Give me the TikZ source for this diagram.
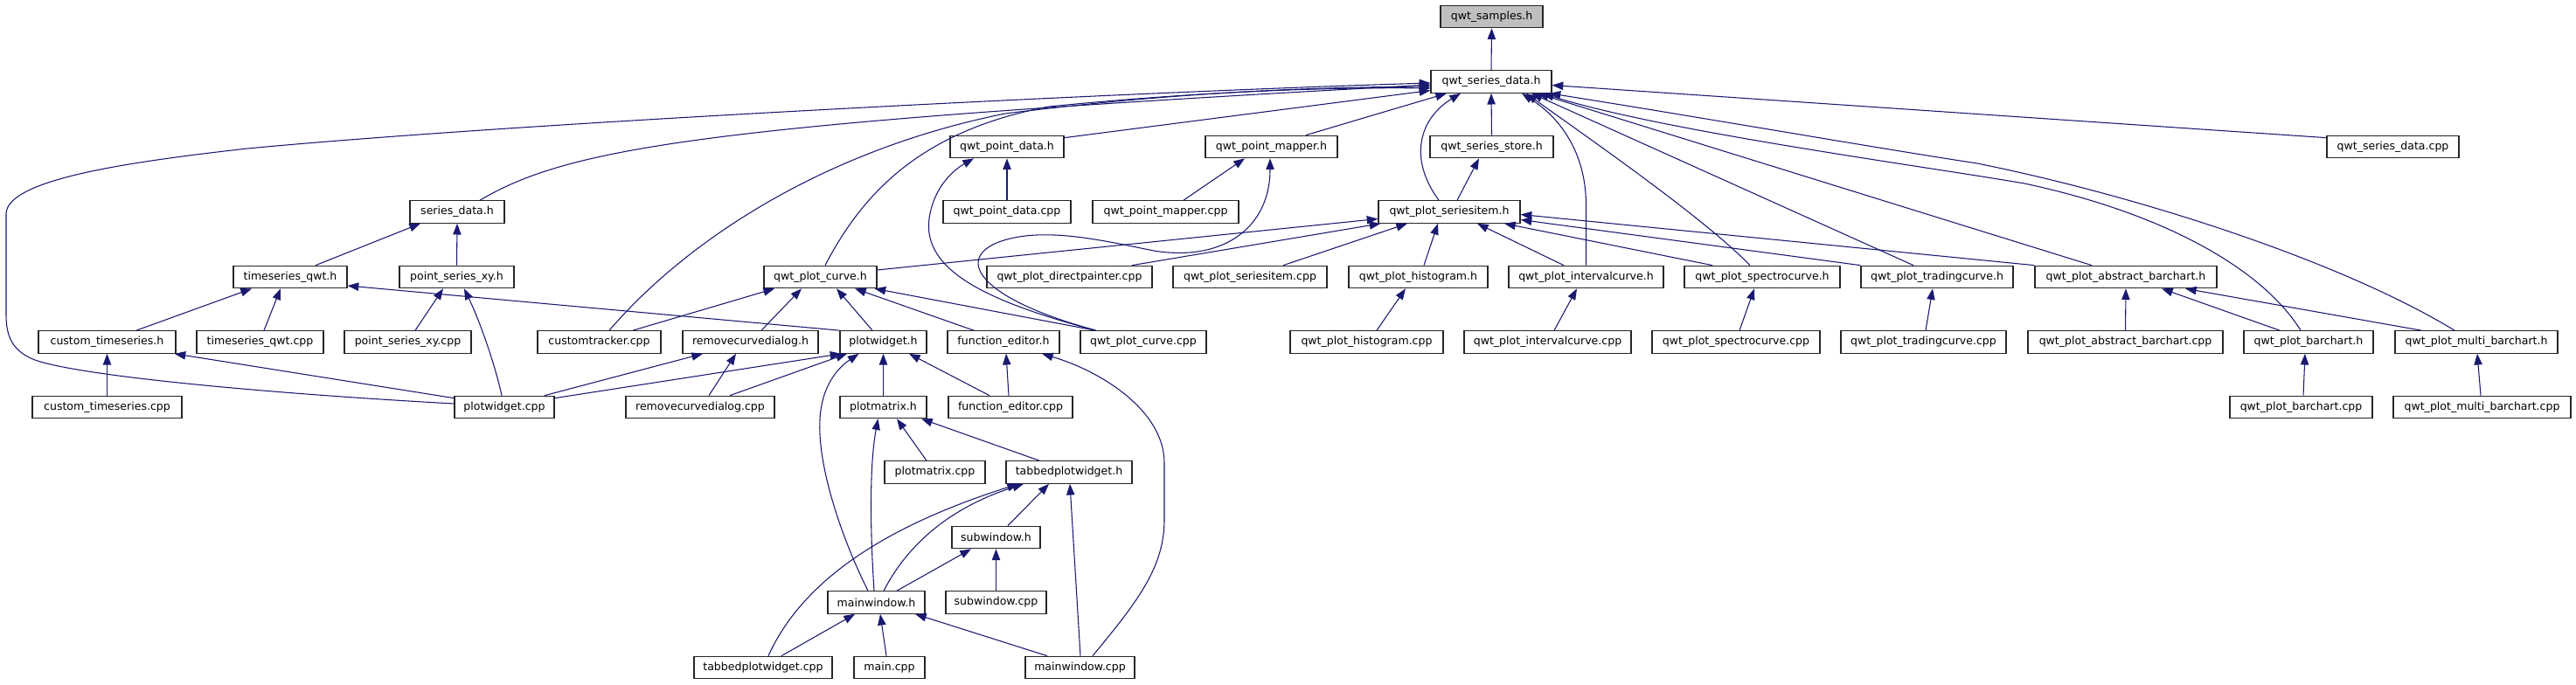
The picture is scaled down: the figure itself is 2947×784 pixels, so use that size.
\documentclass[tikz,border=0pt]{standalone}
\usepackage{fontspec}
\setmainfont{DejaVu Sans}
\usetikzlibrary{arrows.meta,calc}
\definecolor{edgeblue}{HTML}{191970}
\definecolor{mainfill}{HTML}{BFBFBF}
\begin{document}
\begin{tikzpicture}[x=0.75pt,y=-0.75pt,
  box/.style={draw=black!85, line width=0.9pt, fill=white, minimum height=19.1pt, inner sep=0pt, font=\fontsize{9.4pt}{11pt}\selectfont},
  bw/.style={minimum width=#1*0.75pt},
  dep/.style={draw=edgeblue, line width=0.8pt, -{Triangle[length=9.5pt,width=7pt]}}]
\useasboundingbox (0,0) rectangle (2947,784);
% rank 0
\node[box,bw=117,fill=mainfill] (samples) at (1706.5,19) {qwt\_samples.h};
% rank 1
\node[box,bw=138] (sd) at (1706,93.5) {qwt\_series\_data.h};
% rank 2
\node[box,bw=130] (pd) at (1152,168) {qwt\_point\_data.h};
\node[box,bw=151] (pm) at (1454.5,168) {qwt\_point\_mapper.h};
\node[box,bw=141] (ss) at (1706.5,168) {qwt\_series\_store.h};
\node[box,bw=151] (sdc) at (2737.5,168) {qwt\_series\_data.cpp};
% rank 3
\node[box,bw=108] (sdh) at (523,242.5) {series\_data.h};
\node[box,bw=146] (pdc) at (1152,242.5) {qwt\_point\_data.cpp};
\node[box,bw=167] (pmc) at (1333.5,242.5) {qwt\_point\_mapper.cpp};
\node[box,bw=162] (si) at (1658,242.5) {qwt\_plot\_seriesitem.h};
% rank 4
\node[box,bw=130] (tq) at (332,317) {timeseries\_qwt.h};
\node[box,bw=131] (psx) at (522.5,317) {point\_series\_xy.h};
\node[box,bw=129] (pc) at (938.5,317) {qwt\_plot\_curve.h};
\node[box,bw=189] (dp) at (1223.5,317) {qwt\_plot\_directpainter.cpp};
\node[box,bw=176] (sic) at (1430,317) {qwt\_plot\_seriesitem.cpp};
\node[box,bw=159] (hi) at (1622.5,317) {qwt\_plot\_histogram.h};
\node[box,bw=177] (ic) at (1814.5,317) {qwt\_plot\_intervalcurve.h};
\node[box,bw=178] (sc) at (2016,317) {qwt\_plot\_spectrocurve.h};
\node[box,bw=174] (tc) at (2216,317) {qwt\_plot\_tradingcurve.h};
\node[box,bw=208] (ab) at (2432,317) {qwt\_plot\_abstract\_barchart.h};
% rank 5
\node[box,bw=157] (cth) at (122.5,391.5) {custom\_timeseries.h};
\node[box,bw=145] (tqc) at (297.5,391.5) {timeseries\_qwt.cpp};
\node[box,bw=145] (psxc) at (466.5,391.5) {point\_series\_xy.cpp};
\node[box,bw=141] (ct) at (685.5,391.5) {customtracker.cpp};
\node[box,bw=155] (rdh) at (858.5,391.5) {removecurvedialog.h};
\node[box,bw=99] (pw) at (1010.5,391.5) {plotwidget.h};
\node[box,bw=128] (feh) at (1148,391.5) {function\_editor.h};
\node[box,bw=144] (pcc) at (1308,391.5) {qwt\_plot\_curve.cpp};
\node[box,bw=175] (hic) at (1563.5,391.5) {qwt\_plot\_histogram.cpp};
\node[box,bw=191] (icc) at (1770.5,391.5) {qwt\_plot\_intervalcurve.cpp};
\node[box,bw=192] (scc) at (1986,391.5) {qwt\_plot\_spectrocurve.cpp};
\node[box,bw=189] (tcc) at (2200.5,391.5) {qwt\_plot\_tradingcurve.cpp};
\node[box,bw=223] (abc) at (2431.5,391.5) {qwt\_plot\_abstract\_barchart.cpp};
\node[box,bw=148] (bh) at (2641,391.5) {qwt\_plot\_barchart.h};
\node[box,bw=186] (mbh) at (2833,391.5) {qwt\_plot\_multi\_barchart.h};
% rank 6
\node[box,bw=171] (ctc) at (122.5,466) {custom\_timeseries.cpp};
\node[box,bw=114] (pwc) at (577,466) {plotwidget.cpp};
\node[box,bw=170] (rdc) at (801,466) {removecurvedialog.cpp};
\node[box,bw=99] (pmh) at (1010.5,466) {plotmatrix.h};
\node[box,bw=142] (fec) at (1156,466) {function\_editor.cpp};
\node[box,bw=163] (bc) at (2632.5,466) {qwt\_plot\_barchart.cpp};
\node[box,bw=203] (mbc) at (2839.5,466) {qwt\_plot\_multi\_barchart.cpp};
% rank 7
\node[box,bw=115] (pmcpp) at (1069.5,540.5) {plotmatrix.cpp};
\node[box,bw=144] (tph) at (1223,540.5) {tabbedplotwidget.h};
% rank 8
\node[box,bw=101] (swh) at (1139.5,615) {subwindow.h};
% rank 9
\node[box,bw=111] (mw) at (1002.5,689.5) {mainwindow.h};
\node[box,bw=115] (swc) at (1139.5,689.5) {subwindow.cpp};
% rank 10
\node[box,bw=158] (tpc) at (873,764) {tabbedplotwidget.cpp};
\node[box,bw=81] (mainc) at (1017.5,764) {main.cpp};
\node[box,bw=125] (mwc) at (1235.5,764) {mainwindow.cpp};

% ---- straight connectors
\draw[dep] (sd.north) -- (samples.south);
\draw[dep] (ss.north) -- (sd.south);
\draw[dep] ($(pd.north east)+(0,3)$) -- ($(sd.west)+(0,10)$);
\draw[dep] ($(pm.north)+(39.5,0)$) -- ($(sd.south)+(-51,0)$);
\draw[dep] ($(sdc.north west)+(0,3)$) -- ($(sd.east)+(0,4)$);
\draw[dep] ($(si.north)+(9,0)$) -- ($(ss.south)+(-14.5,0)$);
\draw[dep] ($(tq.north)+(29,0)$) -- ($(sdh.south)+(-42,0)$);
\draw[dep] (psx.north) -- (sdh.south);
\draw[dep] ($(cth.north)+(33.5,0)$) -- ($(tq.south)+(-44,0)$);
\draw[dep] ($(tqc.north)+(4.5,0)$) -- ($(tq.south)+(-11,0)$);
\draw[dep] (pw.north west) -- ($(tq.east)+(0,10)$);
\draw[dep] ($(psxc.north)+(8.5,0)$) -- ($(psx.south)+(-15.5,0)$);
\draw[dep] (ctc.north) -- (cth.south);
\draw[dep] ($(pwc.north west)+(0,3)$) -- ($(cth.south east)+(-2,0)$);
\draw[dep] ($(pwc.north)+(46,0)$) -- ($(rdh.south)+(-54.5,0)$);
\draw[dep] ($(pwc.north east)+(0,3)$) -- ($(pw.south west)+(2,0)$);
\draw[dep] ($(ct.north)+(38.5,0)$) -- ($(pc.south)+(-52.5,0)$);
\draw[dep] ($(rdh.north)+(12.5,0)$) -- ($(pc.south)+(-21.5,0)$);
\draw[dep] ($(pw.north)+(-12.5,0)$) -- ($(pc.south)+(18.5,0)$);
\draw[dep] ($(feh.north)+(-34,0)$) -- ($(pc.south)+(39.5,0)$);
\draw[dep] ($(pcc.north)+(-55,0)$) -- ($(pc.south)+(62,0)$);
\draw[dep] ($(rdc.north)+(10,0)$) -- ($(rdh.south)+(-16.5,0)$);
\draw[dep] ($(rdc.north)+(34,0)$) -- ($(pw.south)+(-41.5,0)$);
\draw[dep] (pmh.north) -- (pw.south);
\draw[dep] ($(fec.north)+(-24,0)$) -- ($(pw.south)+(29.5,0)$);
\draw[dep] ($(fec.north)+(-2,0)$) -- ($(feh.south)+(3,0)$);
\draw[dep] ($(pmcpp.north)+(-9.5,0)$) -- ($(pmh.south)+(15.5,0)$);
\draw[dep] ($(tph.north)+(-34,0)$) -- ($(pmh.south)+(43.5,0)$);
\draw[dep] ($(swh.north)+(13.5,0)$) -- ($(tph.south)+(-23,0)$);
\draw[dep] ($(mwc.north)+(0.5,0)$) -- ($(tph.south)+(1,0)$);
\draw[dep] ($(mw.north)+(23.5,0)$) -- ($(swh.south)+(-28.5,0)$);
\draw[dep] (swc.north) -- (swh.south);
\draw[dep] ($(tpc.north)+(21,0)$) -- ($(mw.south)+(-24.5,0)$);
\draw[dep] ($(mainc.north)+(-3.5,0)$) -- ($(mw.south)+(4.5,0)$);
\draw[dep] ($(mwc.north)+(-37.5,0)$) -- ($(mw.south)+(44.5,0)$);
\draw[dep] (pdc.north) -- (pd.south);
\draw[dep] ($(pmc.north)+(20.5,0)$) -- ($(pm.south)+(-30.5,0)$);
\draw[dep] ($(pc.east)+(0,-8)$) -- ($(si.west)+(0,8)$);
\draw[dep] ($(dp.north)+(71.5,0)$) -- ($(si.south west)+(3,0)$);
\draw[dep] ($(sic.north)+(38,0)$) -- ($(si.south)+(-48,0)$);
\draw[dep] ($(hi.north)+(6.5,0)$) -- ($(si.south)+(-13,0)$);
\draw[dep] ($(ic.north)+(-25.5,0)$) -- ($(si.south)+(32,0)$);
\draw[dep] ($(sc.north)+(-57,0)$) -- ($(si.south)+(63,0)$);
\draw[dep] (tc.north west) -- ($(si.east)+(0,9)$);
\draw[dep] (ab.north west) -- ($(si.east)+(0,3)$);
\draw[dep] ($(hic.north)+(11.5,0)$) -- ($(hi.south)+(-14.5,0)$);
\draw[dep] ($(icc.north)+(7.5,0)$) -- ($(ic.south)+(-10.5,0)$);
\draw[dep] ($(scc.north)+(4,0)$) -- ($(sc.south)+(-9,0)$);
\draw[dep] ($(tcc.north)+(2.5,0)$) -- ($(tc.south)+(-5,0)$);
\draw[dep] (abc.north) -- (ab.south);
\draw[dep] ($(bh.north)+(-33,0)$) -- ($(ab.south)+(41,0)$);
\draw[dep] ($(mbh.north)+(-63,0)$) -- ($(ab.south)+(68,0)$);
\draw[dep] ($(bc.north)+(2.5,0)$) -- ($(bh.south)+(-4,0)$);
\draw[dep] ($(mbc.north)+(-1.5,0)$) -- ($(mbh.south)+(1,0)$);
\draw[dep] ($(tc.north)+(-27,0)$) -- ($(sd.south)+(46,0)$);
\draw[dep] ($(ab.north)+(-39,0)$) -- ($(sd.south)+(53,0)$);

% ---- curved connectors
\draw[dep] ($(pwc.north)+(-3,0)$) .. controls (567,420) and (550,370) .. ($(psx.south)+(8.5,0)$);
\draw[dep] ($(pwc.west)+(0,-4)$) .. controls (300,450) and (90,430) .. (40,412)
   .. controls (14,402) and (7,385) .. (7,360) -- (7,245)
   .. controls (7,205) and (150,185) .. (283,170)
   .. controls (600,140) and (1300,105) .. ($(sd.west)+(0,1.5)$);
\draw[dep] ($(sdh.north)+(26,0)$) .. controls (650,170) and (800,142) .. ($(sd.west)+(0,3.5)$);
\draw[dep] ($(ct.north)+(11.5,0)$) .. controls (790,270) and (950,170) .. (1150,130)
   .. controls (1350,105) and (1500,100) .. ($(sd.west)+(0,5.5)$);
\draw[dep] ($(pc.north)+(5.5,0)$) .. controls (985,225) and (1050,150) .. (1200,122)
   .. controls (1400,102) and (1550,100) .. ($(sd.west)+(0,7.5)$);
\draw[dep] ($(si.north)+(-12,0)$) .. controls (1610,180) and (1625,135) .. ($(sd.south)+(-35,0)$);
\draw[dep] (ic.north) -- (1814.5,235) .. controls (1814.5,175) and (1785,135) .. ($(sd.south)+(35,0)$);
\draw[dep] ($(sc.north)+(-14,0)$) .. controls (1950,250) and (1820,160) .. ($(sd.south)+(40,0)$);
\draw[dep] ($(bh.north)+(-9,0)$) .. controls (2590,310) and (2480,245) .. (2316,210)
   .. controls (2200,190) and (1900,150) .. ($(sd.south)+(59,0)$);
\draw[dep] ($(mbh.north)+(-25,0)$) .. controls (2680,300) and (2450,225) .. (2262,187)
   .. controls (2150,170) and (1950,135) .. ($(sd.south east)+(-3,0)$);
\draw[dep] ($(pcc.north)+(-55,0)$) .. controls (1130,345) and (1055,310) .. (1063,250)
   .. controls (1068,215) and (1090,195) .. ($(pd.south)+(-38,0)$);
\draw[dep] ($(pcc.north)+(-54,0)$) .. controls (1130,345) and (1090,300) .. (1140,278)
   .. controls (1190,258) and (1260,275) .. (1320,287)
   .. controls (1400,300) and (1453,260) .. ($(pm.south)+(-1.5,0)$);
\draw[dep] ($(mw.north)+(-9.5,0)$) .. controls (960,610) and (935,530) .. (938,480)
   .. controls (940,440) and (960,420) .. ($(pw.south)+(-28,0)$);
\draw[dep] ($(mw.north)+(-2.5,0)$) .. controls (995,600) and (995,530) .. ($(pmh.south)+(-6,0)$);
\draw[dep] ($(tpc.north)+(6,0)$) .. controls (920,660) and (1020,600) .. ($(tph.south)+(-58,0)$);
\draw[dep] ($(mw.north)+(8.5,0)$) .. controls (1040,620) and (1090,580) .. ($(tph.south)+(-52,0)$);
\draw[dep] ($(mwc.north)+(14.5,0)$) .. controls (1300,690) and (1332,650) .. (1332,595) -- (1332,530)
   .. controls (1332,470) and (1260,425) .. ($(feh.south)+(44,0)$);
\end{tikzpicture}
\end{document}
